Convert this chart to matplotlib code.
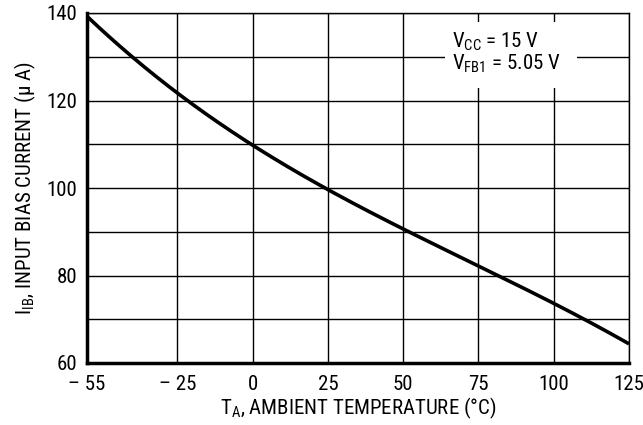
import matplotlib
matplotlib.use("Agg")
import matplotlib.pyplot as plt
from matplotlib import font_manager
from matplotlib.patches import Rectangle
import numpy as np

names = {f.name for f in font_manager.fontManager.ttflist}
fam = "Roboto Condensed" if "Roboto Condensed" in names else "Liberation Sans"
plt.rcParams['font.family'] = [fam, 'DejaVu Sans']
plt.rcParams['mathtext.fontset'] = 'custom'
plt.rcParams['mathtext.rm'] = fam
plt.rcParams['mathtext.it'] = fam

# data
temp = [-55, -40, -25, 0, 25, 50, 75, 100, 125]
ib = [139.5, 130.0, 121.0, 110.0, 100.2, 90.5, 82.0, 73.5, 64.5]
xticks = [-55, -25, 0, 25, 50, 75, 100, 125]
xtick_labels = ["– 55", "– 25", "0", "25", "50", "75", "100", "125"]
yticks = [60, 80, 100, 120, 140]

FS = 15

fig = plt.figure(figsize=(6.43, 4.25), dpi=100)
ax = fig.add_axes([87/643, 1-363/425, (629-87)/643, (363-13)/425])
ax.set_xlim(-55, 125)
ax.set_ylim(60, 140)

# grid
for x in xticks[1:]:
    ax.axvline(x, color='black', lw=1.0, zorder=1)
for y in range(70, 141, 10):
    ax.axhline(y, color='black', lw=1.0, zorder=1)

# smooth curve through read points
xs = np.linspace(-55, 125, 400)
coef = np.polyfit(temp, ib, 3)
ax.plot(xs, np.polyval(coef, xs), color='black', lw=2.6, zorder=3, solid_capstyle='butt')

ax.set_xticks(xticks)
ax.set_xticklabels(xtick_labels)
ax.set_yticks(yticks)
ax.tick_params(axis='x', length=0, labelsize=FS, pad=9)
ax.tick_params(axis='y', length=0, labelsize=FS, pad=7)
for s in ['left', 'bottom']:
    ax.spines[s].set_linewidth(2.5)
for s in ['top', 'right']:
    ax.spines[s].set_linewidth(1.0)

ax.set_xlabel(r"T$_{\mathregular{A}}$, AMBIENT TEMPERATURE (°C)", fontsize=FS, labelpad=1)
ax.set_ylabel(r"I$_{\mathregular{IB}}$, INPUT BIAS CURRENT (μ A)", fontsize=FS, labelpad=6)

# white background box for the conditions note
ax.add_patch(Rectangle((63.9, 122.9), 107.7 - 63.9, 137.9 - 122.9,
                       facecolor='white', edgecolor='none', zorder=4))
ax.text(66.3, 136.0,
        "V$_{\\mathregular{CC}}$ = 15 V\nV$_{\\mathregular{FB1}}$ = 5.05 V",
        fontsize=FS, va='top', ha='left', linespacing=1.0, zorder=5)

fig.savefig("out.png", dpi=100)
